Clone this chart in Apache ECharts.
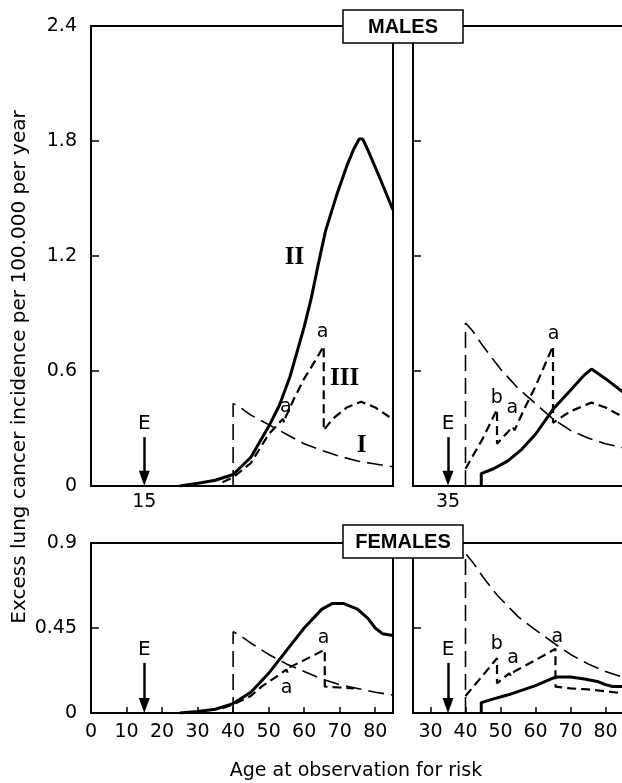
<!DOCTYPE html>
<html>
<head>
<meta charset="utf-8">
<script src="https://cdn.jsdelivr.net/npm/echarts@6/dist/echarts.min.js"></script>
<style>
  html, body { margin: 0; padding: 0; background: #fff; }
  #chart { width: 622px; height: 783px; }
</style>
</head>
<body>
<div id="chart"></div>
<script>
// males, exposure at age 15 (top left)
var maleII_15 = [[25,0],[31,0.017],[35,0.03],[40,0.06],[45,0.15],[50,0.31],[53,0.42],[56,0.57],[58,0.7],[60,0.83],[62,0.98],[64,1.16],[66,1.33],[69,1.51],[72,1.67],[74,1.76],[75.5,1.81],[76.5,1.81],[78,1.75],[81,1.62],[85,1.44]];
var maleIII_15 = [[37,0.02],[40,0.045],[45,0.12],[50,0.27],[54,0.35],[54.4,0.33],[54.8,0.36],[57,0.45],[60,0.56],[63,0.65],[65.5,0.73],[65.5,0.29],[68,0.35],[72,0.41],[76,0.44],[80,0.41],[84,0.36]];
var maleI_15 = [[40,0],[40,0.43],[42,0.41],[45,0.37],[50,0.32],[55,0.27],[60,0.22],[65,0.185],[70,0.155],[75,0.13],[80,0.115],[85,0.1]];
// males, exposure at age 35 (top right)
var maleII_35 = [[44.5,0],[44.5,0.065],[48,0.09],[52,0.13],[56,0.19],[60,0.27],[65,0.4],[70,0.5],[74,0.58],[76,0.61],[80,0.56],[85,0.49]];
var maleIII_35 = [[40,0.09],[45,0.25],[49,0.4],[49,0.22],[53.5,0.31],[54,0.29],[54.5,0.31],[57,0.41],[60,0.52],[65,0.73],[65,0.33],[70,0.39],[76,0.435],[80,0.41],[85,0.36]];
var maleI_35 = [[40,0],[40,0.85],[42,0.81],[45,0.73],[50,0.61],[55,0.51],[60,0.43],[65,0.35],[70,0.29],[75,0.25],[80,0.22],[85,0.2]];
// females, exposure at age 15 (bottom left)
var femII_15 = [[25,0],[30,0.008],[35,0.02],[40,0.05],[45,0.11],[50,0.21],[55,0.33],[60,0.45],[65,0.55],[68,0.58],[71,0.58],[75,0.55],[78,0.5],[80,0.45],[82,0.42],[85,0.41]];
var femIII_15 = [[37,0.025],[40,0.045],[45,0.09],[48,0.14],[52,0.19],[55,0.23],[55.3,0.215],[55.7,0.24],[60,0.28],[65.8,0.335],[65.8,0.14],[70,0.135],[74,0.13]];
var femI_15 = [[40,0],[40,0.43],[42,0.41],[45,0.37],[50,0.31],[55,0.26],[60,0.22],[65,0.18],[70,0.15],[75,0.13],[80,0.11],[85,0.095]];
// females, exposure at age 35 (bottom right)
var femII_35 = [[44.5,0],[44.5,0.055],[48,0.075],[52,0.095],[56,0.12],[60,0.145],[65.7,0.19],[70,0.19],[74,0.18],[78,0.165],[80,0.15],[82,0.14],[85,0.14]];
var femIII_35 = [[40,0.09],[45,0.2],[49,0.29],[49,0.157],[52.5,0.21],[53,0.195],[53.5,0.215],[55,0.23],[60,0.28],[65.7,0.34],[65.7,0.14],[70,0.13],[75,0.125],[80,0.115],[85,0.104]];
var femI_35 = [[40,0],[40,0.845],[42,0.8],[45,0.72],[49,0.625],[55,0.51],[60,0.44],[66,0.36],[70,0.31],[75,0.26],[80,0.22],[85,0.19]];

// tick values
var maleTicksY = [0, 0.6, 1.2, 1.8, 2.4];
var femTicksY = [0, 0.45, 0.9];
var ticksXLeft = [0, 10, 20, 30, 40, 50, 60, 70, 80];
var ticksXRight = [30, 40, 50, 60, 70, 80];
var exposureAges = [15, 35];

// annotations [age, value, text]
var notesTL = [[57.4,1.19,'II'],[71.5,0.56,'III'],[76.3,0.21,'I']];
var lettersTL = [[65.3,0.8,'a'],[55,0.41,'a']];
var lettersTR = [[49.1,0.457,'b'],[53.5,0.405,'a'],[65.3,0.79,'a']];
var lettersBL = [[65.6,0.395,'a'],[55.2,0.13,'a']];
var lettersBR = [[49.1,0.36,'b'],[53.7,0.29,'a'],[66.4,0.4,'a']];

var FONT = 'DejaVu Sans';
var grids = [
  {left: 91, top: 26, width: 302, height: 460},
  {left: 413, top: 26, width: 227.5, height: 460},
  {left: 91, top: 543, width: 302, height: 170},
  {left: 413, top: 543, width: 227.5, height: 170}
].map(function (g) {
  g.show = true; g.borderColor = '#000'; g.borderWidth = 2;
  g.backgroundColor = 'transparent'; g.outerBoundsMode = 'none';
  return g;
});

function xAx(idx, min, max, labels, ticks, margin) {
  return {
    type: 'value', gridIndex: idx, min: min, max: max,
    axisLine: {show: false},
    splitLine: {show: false},
    axisTick: ticks ? {show: true, inside: true, length: 6, customValues: ticks, lineStyle: {color: '#000', width: 1.5}} : {show: false},
    axisLabel: {customValues: labels, color: '#000', fontSize: 19, fontFamily: FONT, margin: margin}
  };
}
function yAx(idx, max, interval, showLabel) {
  return {
    type: 'value', gridIndex: idx, min: 0, max: max, interval: interval,
    axisLine: {show: false},
    splitLine: {show: false},
    axisTick: {show: true, inside: true, length: 8, lineStyle: {color: '#000', width: 1.5}},
    axisLabel: {show: showLabel, color: '#000', fontSize: 19, fontFamily: FONT, margin: 14}
  };
}

function solid(idx, data) {
  return {type: 'line', xAxisIndex: idx, yAxisIndex: idx, data: data, showSymbol: false,
    lineStyle: {color: '#000', width: 3}, z: 5};
}
function medDash(idx, data) {
  return {type: 'line', xAxisIndex: idx, yAxisIndex: idx, data: data, showSymbol: false,
    lineStyle: {color: '#000', width: 2.2, type: [9, 5]}, z: 4};
}
function longDash(idx, data) {
  return {type: 'line', xAxisIndex: idx, yAxisIndex: idx, data: data, showSymbol: false,
    lineStyle: {color: '#000', width: 1.6, type: [16, 7]}, z: 3};
}
function notes(idx, data, font, size, weight) {
  return {type: 'scatter', xAxisIndex: idx, yAxisIndex: idx, data: data, symbolSize: 1,
    itemStyle: {color: '#fff', opacity: 1}, silent: true, z: 6,
    label: {show: true, position: [0, 0], align: 'center', verticalAlign: 'middle',
      color: '#000', fontFamily: font, fontSize: size, fontWeight: weight,
      formatter: function (p) { return p.data[2]; }}};
}
// E arrow: the head is centred on its end point, so it stops a few pixels above 0
function arrow(idx, age, top, tip) {
  return {type: 'line', xAxisIndex: idx, yAxisIndex: idx, data: [],
    markLine: {silent: true, symbol: ['none', 'triangle'], symbolSize: [11, 15],
      itemStyle: {color: '#000'},
      lineStyle: {color: '#000', width: 2.5, type: 'solid'},
      label: {show: true, position: 'start', formatter: 'E', color: '#000', fontSize: 20, fontFamily: FONT, distance: 3},
      data: [[{coord: [age, top]}, {coord: [age, tip]}]]}};
}

var option = {
  animation: false,
  backgroundColor: '#fff',
  grid: grids,
  xAxis: [
    xAx(0, 0, 85, [exposureAges[0]], null, 7),
    xAx(1, 25, 90, [exposureAges[1]], null, 7),
    xAx(2, 0, 85, ticksXLeft, ticksXLeft.slice(1), 10),
    xAx(3, 25, 90, ticksXRight, ticksXRight, 10)
  ],
  yAxis: [
    yAx(0, maleTicksY[4], maleTicksY[1], true),
    yAx(1, maleTicksY[4], maleTicksY[1], false),
    yAx(2, femTicksY[2], femTicksY[1], true),
    yAx(3, femTicksY[2], femTicksY[1], false)
  ],
  series: [
    solid(0, maleII_15), medDash(0, maleIII_15), longDash(0, maleI_15),
    solid(1, maleII_35), medDash(1, maleIII_35), longDash(1, maleI_35),
    solid(2, femII_15), medDash(2, femIII_15), longDash(2, femI_15),
    solid(3, femII_35), medDash(3, femIII_35), longDash(3, femI_35),
    notes(0, notesTL, 'Liberation Serif', 25, 'bold'),
    notes(0, lettersTL, FONT, 19, 'normal'),
    notes(1, lettersTR, FONT, 19, 'normal'),
    notes(2, lettersBL, FONT, 19, 'normal'),
    notes(3, lettersBR, FONT, 19, 'normal'),
    arrow(0, exposureAges[0], 0.255, 0.04),
    arrow(1, exposureAges[1], 0.255, 0.04),
    arrow(2, exposureAges[0], 0.265, 0.04),
    arrow(3, exposureAges[1], 0.265, 0.04)
  ],
  graphic: [
    {type: 'rect', z: 100, shape: {x: 343, y: 10, width: 120, height: 33},
      style: {fill: '#fff', stroke: '#000', lineWidth: 1.5}},
    {type: 'text', z: 101, x: 403, y: 27,
      style: {text: 'MALES', font: 'bold 20px "Liberation Sans"', fill: '#000', align: 'center', verticalAlign: 'middle'}},
    {type: 'rect', z: 100, shape: {x: 343, y: 525, width: 120, height: 33},
      style: {fill: '#fff', stroke: '#000', lineWidth: 1.5}},
    {type: 'text', z: 101, x: 403, y: 542,
      style: {text: 'FEMALES', font: 'bold 20px "Liberation Sans"', fill: '#000', align: 'center', verticalAlign: 'middle'}},
    {type: 'text', z: 101, x: 20, y: 367, rotation: Math.PI / 2,
      style: {text: 'Excess lung cancer incidence per 100.000 per year', font: '20px "DejaVu Sans"', fill: '#000', align: 'center', verticalAlign: 'middle'}},
    {type: 'text', z: 101, x: 356, y: 771,
      style: {text: 'Age at observation for risk', font: '19px "DejaVu Sans"', fill: '#000', align: 'center', verticalAlign: 'middle'}}
  ]
};

var chart = echarts.init(document.getElementById('chart'));
chart.setOption(option);
</script>
</body>
</html>
